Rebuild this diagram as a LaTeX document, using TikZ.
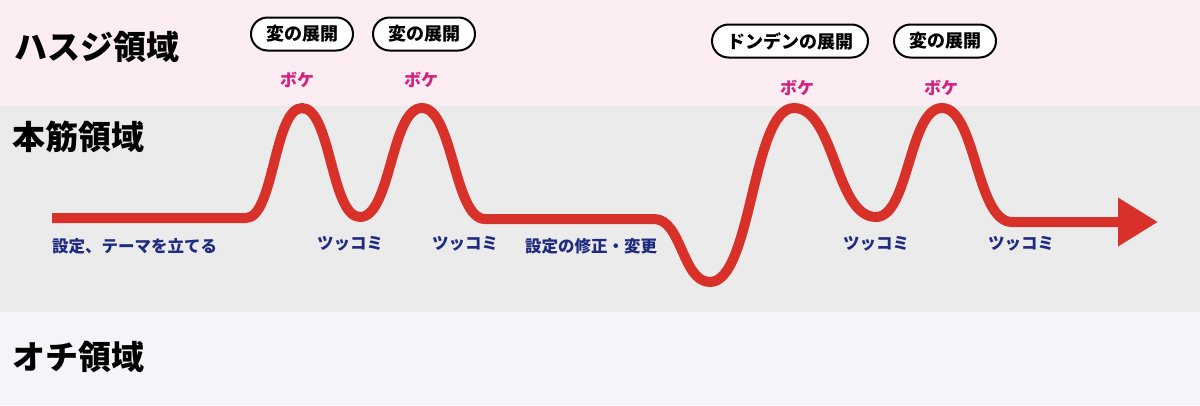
\documentclass[tikz,border=0pt]{standalone}
\usepackage{fontspec}
\setmainfont{Noto Sans CJK JP}
\usetikzlibrary{arrows.meta}
\definecolor{bandpink}{HTML}{FBEDF2}
\definecolor{bandgray}{HTML}{EBEBEB}
\definecolor{bandlight}{HTML}{F3F5F9}
\definecolor{curvered}{HTML}{D8312A}
\definecolor{navy}{HTML}{1F2B7F}
\definecolor{bokec}{HTML}{D4237F}
\tikzset{
  region/.style={anchor=west, font=\fontsize{33}{33}\selectfont\bfseries, inner sep=0pt},
  pill/.style={draw=black, line width=2pt, fill=white, rounded corners=16.5pt, minimum height=33pt, inner xsep=15pt, inner ysep=0pt, font=\fontsize{18}{18}\selectfont\bfseries},
  bokelbl/.style={text=bokec, font=\fontsize{17}{17}\selectfont\bfseries, inner sep=0pt},
  navylbl/.style={text=navy, font=\fontsize{16.5}{16.5}\selectfont\bfseries, inner sep=0pt},
  curve/.style={draw=curvered, line width=10pt, line join=round, -{Triangle[length=40pt,width=46pt]}}
}
\begin{document}
\begin{tikzpicture}[x=1pt,y=-1pt]
\useasboundingbox (0,0) rectangle (1200,405);
\fill[bandpink] (0,0) rectangle (1200,106);
\fill[bandgray] (0,106) rectangle (1200,312);
\fill[bandlight] (0,312) rectangle (1200,405);

\node[region] (t1) at (14,47) {ハスジ領域};
\node[region] (t2) at (12,137) {本筋領域};
\node[region] (t3) at (12,357) {オチ領域};

\node[pill] (p1) at (302,34) {変の展開};
\node[pill] (p2) at (424,34) {変の展開};
\node[pill] (p3) at (790,41) {ドンデンの展開};
\node[pill] (p4) at (945,41) {変の展開};

\node[bokelbl] (b1) at (297,80) {ボケ};
\node[bokelbl] (b2) at (421,80) {ボケ};
\node[bokelbl] (b3) at (797,88) {ボケ};
\node[bokelbl] (b4) at (941,88) {ボケ};

\draw[curve] (52,218) -- (246,218)
 .. controls (274,218) and (274,108) .. (302,108)
 .. controls (331,108) and (331,217) .. (360,217)
 .. controls (391,217) and (391,108) .. (422,108)
 .. controls (453,108) and (454,219) .. (485,219)
 -- (654,219)
 .. controls (682,219) and (682,282) .. (710,282)
 .. controls (752,282) and (752,108) .. (794,108)
 .. controls (835,108) and (835,217) .. (876,217)
 .. controls (909,217) and (909,108) .. (942,108)
 .. controls (976,108) and (976,222) .. (1012,222)
 -- (1158,222);

\node[navylbl, anchor=west] (s1) at (52,246) {設定、テーマを立てる};
\node[navylbl] (k1) at (350,244) {ツッコミ};
\node[navylbl] (k2) at (465,244) {ツッコミ};
\node[navylbl, anchor=west] (s2) at (525,246) {設定の修正・変更};
\node[navylbl] (k3) at (876,244) {ツッコミ};
\node[navylbl] (k4) at (1021,244) {ツッコミ};
\end{tikzpicture}
\end{document}
